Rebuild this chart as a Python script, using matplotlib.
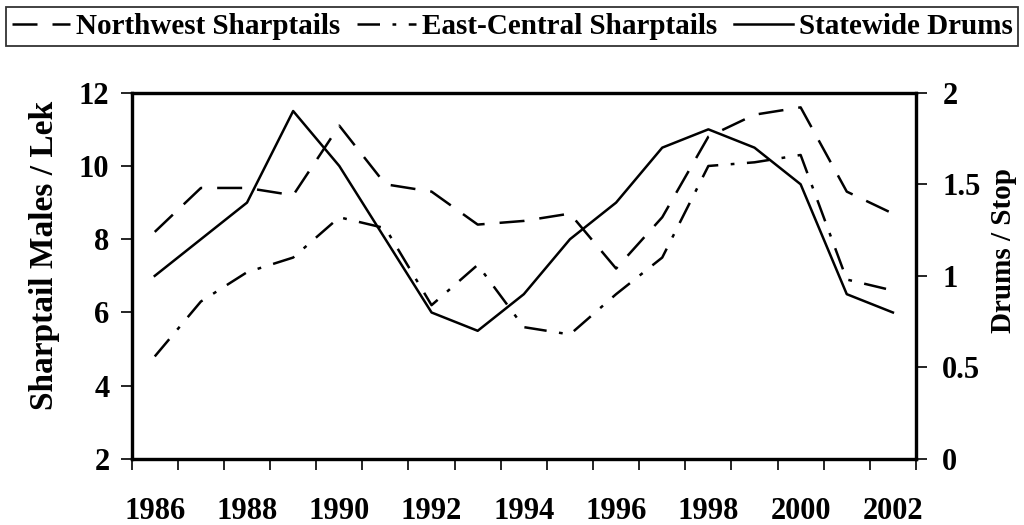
import numpy as np
import matplotlib.pyplot as plt

years = list(range(1986, 2003))
northwest = [8.2, 9.4, 9.4, 9.2, 11.1, 9.5, 9.3, 8.4, 8.5, 8.7, 7.2, 8.6, 10.8, 11.4, 11.6, 9.3, 8.7]
east_central = [4.8, 6.3, 7.1, 7.5, 8.6, 8.3, 6.2, 7.3, 5.6, 5.4, 6.5, 7.5, 10.0, 10.1, 10.3, 6.9, 6.6]
drums = [1.0, 1.2, 1.4, 1.9, 1.6, 1.2, 0.8, 0.7, 0.9, 1.2, 1.4, 1.7, 1.8, 1.7, 1.5, 0.9, 0.8]

plt.rcParams['font.family'] = ['Liberation Serif', 'DejaVu Serif']
plt.rcParams['font.weight'] = 'bold'

fig = plt.figure(figsize=(10.24, 5.25), dpi=100)
ax = fig.add_axes([0.1286, 0.1257, 0.7659, 0.6977])
ax2 = ax.twinx()

x = np.arange(len(years))
lw = 1.8
l1, = ax.plot(x, northwest, color='black', lw=lw, dashes=(10, 6), label='Northwest Sharptails')
l2, = ax.plot(x, east_central, color='black', lw=lw, dashes=(9, 5, 1.5, 5), label='East-Central Sharptails')
l3, = ax2.plot(x, drums, color='black', lw=lw, label='Statewide Drums')

ax.set_xlim(-0.5, len(years) - 0.5)
ax.set_ylim(2, 12)
ax2.set_ylim(0, 2)
ax.set_yticks(range(2, 13, 2))
ax2.set_yticks([0, 0.5, 1, 1.5, 2])
ax2.set_yticklabels(['0', '0.5', '1', '1.5', '2'])

# category boundary ticks, labels on every other year
ax.set_xticks(np.arange(-0.5, len(years), 1))
ax.set_xticklabels([])
ax.set_xticks(x[::2], minor=True)
ax.set_xticklabels([str(y) for y in years[::2]], minor=True)
ax.tick_params(axis='x', which='minor', length=0, pad=27, labelsize=22)
ax.tick_params(axis='x', which='major', length=8, width=1.2, direction='out')
ax.tick_params(axis='y', length=8, width=1.2, direction='out', labelsize=22, pad=8)
ax2.tick_params(axis='y', length=8, width=1.2, direction='out', labelsize=22, pad=11)

for a in (ax, ax2):
    for s in a.spines.values():
        s.set_linewidth(2.3)

ax.set_ylabel('Sharptail Males / Lek', fontsize=24, fontweight='bold')
ax2.set_ylabel('Drums / Stop', fontsize=21, fontweight='bold')
ax.yaxis.set_label_coords(-0.092, 0.556)
ax2.yaxis.set_label_coords(1.095, 0.57)

leg = fig.legend(handles=[l1, l2, l3], loc='upper center', bbox_to_anchor=(0.5, 0.997),
                 ncol=3, fontsize=21, frameon=True, fancybox=False, edgecolor='black',
                 handlelength=2.0, handletextpad=0.2, columnspacing=0.6, borderpad=0.2,
                 borderaxespad=0.2)
leg.get_frame().set_linewidth(1.3)
for t in leg.get_texts():
    t.set_fontweight('bold')

fig.savefig('out.png', dpi=100)
